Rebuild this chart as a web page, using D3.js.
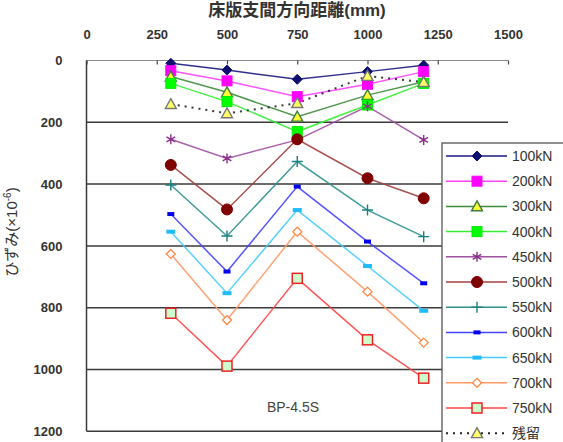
<!DOCTYPE html>
<html>
<head>
<meta charset="utf-8">
<script src="https://cdn.jsdelivr.net/npm/d3@7"></script>
<style>
  body { margin: 0; background: #fff; }
  svg { display: block; font-family: "Liberation Sans", "Noto Sans CJK JP", sans-serif; }
</style>
</head>
<body>
<svg id="chart" width="563" height="442"></svg>
<script>
'use strict';

// distance along slab span (mm)
const positions = [ 300, 500, 750, 1000, 1200 ];
const xTicks    = [ 0, 250, 500, 750, 1000, 1250, 1500 ];
const yTicks    = [ 0, 200, 400, 600, 800, 1000, 1200 ];

// strain (x10^-6) per load step
const loads   = [ '100kN', '200kN', '300kN', '400kN', '450kN', '500kN', '550kN', '600kN', '650kN', '700kN', '750kN', '残留' ];
const s100    = [   9,  31,  61,  36,  15 ];
const s200    = [  33,  66, 117,  77,  36 ];
const s300    = [  52, 103, 182, 112,  69 ];
const s400    = [  74, 133, 230, 144,  74 ];
const s450    = [ 255, 317, 257, 148, 257 ];
const s500    = [ 338, 482, 255, 381, 446 ];
const s550    = [ 403, 568, 327, 484, 570 ];
const s600    = [ 497, 683, 408, 586, 721 ];
const s650    = [ 554, 753, 484, 665, 810 ];
const s700    = [ 626, 840, 554, 748, 913 ];
const s750    = [ 818, 989, 705, 904, 1028 ];
const residual = [ 141, 171, 138,  50,  70 ];

const seriesValues = [ s100, s200, s300, s400, s450, s500, s550, s600, s650, s700, s750, residual ];

// look of each series: line colour, marker shape, marker fill / stroke
const styles = [
  { line: '#1a1a80', shape: 'diamond',  size: 10, fill: '#101070', stroke: '#101070' },
  { line: '#ff40ff', shape: 'square',   size: 10, fill: '#ff00ff', stroke: '#ff00ff' },
  { line: '#3c8c3c', shape: 'triangle', size: 11, fill: '#ffff33', stroke: '#3c7c3c' },
  { line: '#33ee33', shape: 'square',   size: 10, fill: '#00ff00', stroke: '#00ee00' },
  { line: '#a050a0', shape: 'asterisk', size: 10, fill: 'none',    stroke: '#8a2f8a' },
  { line: '#a04040', shape: 'circle',   size: 11, fill: '#800000', stroke: '#800000' },
  { line: '#2e9090', shape: 'plus',     size: 11, fill: 'none',    stroke: '#1a8080' },
  { line: '#4444ff', shape: 'dash',     size: 7,  fill: '#0000ee', stroke: 'none' },
  { line: '#44ccff', shape: 'dash',     size: 9,  fill: '#22bbff', stroke: 'none' },
  { line: '#ff9966', shape: 'odiamond', size: 9,  fill: '#ffffff', stroke: '#ff8844' },
  { line: '#ff4444', shape: 'osquare',  size: 10, fill: '#ccffcc', stroke: '#ee2222' },
  { line: '#222222', shape: 'triangle', size: 11, fill: '#ffff66', stroke: '#777777', dash: '2,5' }
];

const svg = d3.select( '#chart' );

const x = d3.scaleLinear().domain( [ 0, 1500 ] ).range( [ 86.5, 508 ] );
const y = d3.scaleLinear().domain( [ 0, 1200 ] ).range( [ 60.5, 431.3 ] );

// draw a marker centred at 0,0
function marker( g, st ) {
  const s = st.size, h = s / 2;
  switch( st.shape ) {
    case 'diamond':
    case 'odiamond':
      g.append( 'path' ).attr( 'd', `M0,${-h}L${h},0L0,${h}L${-h},0Z` )
        .attr( 'fill', st.fill ).attr( 'stroke', st.stroke ).attr( 'stroke-width', st.shape == 'odiamond' ? 1.3 : 1 );
      break;
    case 'square':
    case 'osquare':
      g.append( 'rect' ).attr( 'x', -h ).attr( 'y', -h ).attr( 'width', s ).attr( 'height', s )
        .attr( 'fill', st.fill ).attr( 'stroke', st.stroke ).attr( 'stroke-width', st.shape == 'osquare' ? 1.5 : 1 );
      break;
    case 'triangle':
      g.append( 'path' ).attr( 'd', `M0,${-h}L${h},${h * 0.8}L${-h},${h * 0.8}Z` )
        .attr( 'fill', st.fill ).attr( 'stroke', st.stroke ).attr( 'stroke-width', 1.4 );
      break;
    case 'circle':
      g.append( 'circle' ).attr( 'r', h ).attr( 'fill', st.fill ).attr( 'stroke', st.stroke );
      break;
    case 'asterisk':
      g.append( 'path' ).attr( 'd', d3.symbol( d3.symbolAsterisk, 70 )() )
        .attr( 'fill', 'none' ).attr( 'stroke', st.stroke ).attr( 'stroke-width', 1.4 );
      break;
    case 'plus':
      g.append( 'path' ).attr( 'd', `M0,${-h}V${h}M${-h},0H${h}` )
        .attr( 'fill', 'none' ).attr( 'stroke', st.stroke ).attr( 'stroke-width', 1.4 );
      break;
    case 'dash':
      g.append( 'rect' ).attr( 'x', -h ).attr( 'y', -2 ).attr( 'width', s ).attr( 'height', 4 )
        .attr( 'fill', st.fill );
      break;
  }
}

// horizontal grid lines
svg.append( 'g' )
    .attr( 'class', 'grid' )
  .selectAll( 'line' )
    .data( yTicks.slice( 1 ) )
  .enter().append( 'line' )
    .attr( 'x1', x( 0 ) ).attr( 'x2', x( 1500 ) )
    .attr( 'y1', d => y( d ) ).attr( 'y2', d => y( d ) )
    .attr( 'stroke', '#3a3a3a' ).attr( 'stroke-width', 1.5 );

// top axis line and inner ticks
svg.append( 'line' )
    .attr( 'x1', x( 0 ) ).attr( 'x2', x( 1500 ) )
    .attr( 'y1', y( 0 ) ).attr( 'y2', y( 0 ) )
    .attr( 'stroke', '#8c8c8c' ).attr( 'stroke-width', 1.2 );

const xAxis = d3.axisTop( x )
    .tickValues( xTicks ).tickFormat( d3.format( 'd' ) )
    .tickSizeInner( -4 ).tickSizeOuter( 0 ).tickPadding( 22 );
const gx = svg.append( 'g' )
    .attr( 'transform', `translate(0,${y( 0 )})` )
    .call( xAxis );
gx.select( '.domain' ).remove();
gx.selectAll( '.tick line' ).attr( 'stroke', '#444' ).attr( 'stroke-width', 1.2 );
gx.selectAll( '.tick text' )
    .style( 'font-size', '13px' ).style( 'font-weight', 'bold' ).attr( 'fill', '#333' );

// left axis
const yAxis = d3.axisLeft( y )
    .tickValues( yTicks ).tickFormat( d3.format( 'd' ) )
    .tickSize( 0 ).tickPadding( 24 );
const gy = svg.append( 'g' )
    .attr( 'transform', `translate(${x( 0 )},0)` )
    .call( yAxis );
gy.select( '.domain' ).remove();
gy.selectAll( '.tick text' )
    .style( 'font-size', '13px' ).style( 'font-weight', 'bold' ).attr( 'fill', '#333' );

svg.append( 'line' )
    .attr( 'x1', x( 0 ) ).attr( 'x2', x( 0 ) )
    .attr( 'y1', y( 0 ) ).attr( 'y2', y( 1200 ) )
    .attr( 'stroke', '#3a3a3a' ).attr( 'stroke-width', 1.5 );

// axis titles
svg.append( 'text' )
    .attr( 'x', 297 ).attr( 'y', 16 )
    .attr( 'text-anchor', 'middle' )
    .style( 'font-size', '17px' ).style( 'font-weight', 'bold' )
    .attr( 'fill', '#333' )
    .text( '床版支間方向距離(mm)' );

const yTitle = svg.append( 'text' )
    .attr( 'transform', 'translate(17,232) rotate(-90)' )
    .attr( 'text-anchor', 'middle' )
    .style( 'font-size', '15px' )
    .attr( 'fill', '#333' );
yTitle.append( 'tspan' ).text( 'ひずみ(×10' );
yTitle.append( 'tspan' ).attr( 'dy', -6 ).style( 'font-size', '10px' ).text( '-6' );
yTitle.append( 'tspan' ).attr( 'dy', 6 ).text( ')' );

// series lines
const line = d3.line()
  .x( (d, i) => x( positions[ i ] ) )
  .y( d => y( d ) );

seriesValues.forEach( (vals, k) => {
  const st = styles[ k ];
  svg.append( 'path' )
      .datum( vals )
      .attr( 'd', line )
      .attr( 'fill', 'none' )
      .attr( 'stroke', st.line )
      .attr( 'stroke-width', st.dash ? 2 : 1.5 )
      .attr( 'stroke-dasharray', st.dash || null )
      .attr( 'opacity', 0.9 );
});

// markers on top
seriesValues.forEach( (vals, k) => {
  const st = styles[ k ];
  svg.append( 'g' )
    .selectAll( 'g' )
      .data( vals )
    .enter().append( 'g' )
      .attr( 'transform', (d, i) => `translate(${x( positions[ i ] )},${y( d )})` )
      .each( function() { marker( d3.select( this ), st ); } );
});

// specimen label
svg.append( 'text' )
    .attr( 'x', 293 ).attr( 'y', 412 )
    .attr( 'text-anchor', 'middle' )
    .style( 'font-size', '14px' )
    .attr( 'fill', '#444' )
    .text( 'BP-4.5S' );

// legend
const legend = svg.append( 'g' ).attr( 'transform', 'translate(442,143)' );
legend.append( 'rect' )
    .attr( 'x', 0 ).attr( 'y', 0 )
    .attr( 'width', 140 ).attr( 'height', 320 )
    .attr( 'fill', '#fff' ).attr( 'stroke', '#555' ).attr( 'stroke-width', 1.3 );

const item = legend.selectAll( '.item' )
    .data( loads )
  .enter().append( 'g' )
    .attr( 'class', 'item' )
    .attr( 'transform', (d, i) => `translate(0,${13 + i * 25.2})` );

item.append( 'line' )
    .attr( 'x1', 4 ).attr( 'x2', 65 )
    .attr( 'stroke', (d, i) => styles[ i ].line )
    .attr( 'stroke-width', (d, i) => styles[ i ].dash ? 2 : 1.5 )
    .attr( 'stroke-dasharray', (d, i) => styles[ i ].dash || null );

item.append( 'g' )
    .attr( 'transform', 'translate(35,0)' )
    .each( function( d, i ) { marker( d3.select( this ), styles[ i ] ); } );

item.append( 'text' )
    .attr( 'x', 70 ).attr( 'dy', '0.36em' )
    .style( 'font-size', '14px' )
    .attr( 'fill', '#333' )
    .text( d => d );
</script>
</body>
</html>
